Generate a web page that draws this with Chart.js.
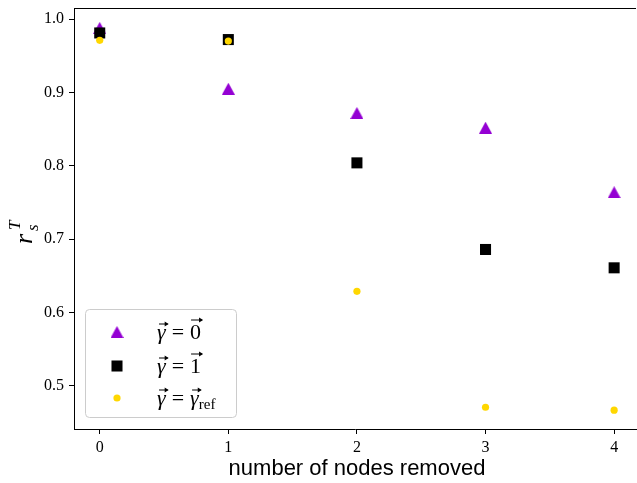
<!DOCTYPE html>
<html>
<head>
<meta charset="utf-8">
<script src="https://cdn.jsdelivr.net/npm/chart.js@4/dist/chart.umd.min.js"></script>
<style>
  html, body { margin: 0; padding: 0; background: #fff; }
  canvas { display: block; }
</style>
</head>
<body>
<canvas id="chart" width="637" height="483"></canvas>
<script>
const nodesRemoved = [0, 1, 2, 3, 4];
const gammaZero = [0.988, 0.905, 0.872, 0.852, 0.764];
const gammaOne = [0.981, 0.972, 0.804, 0.686, 0.661];
const gammaRef = [0.971, 0.970, 0.629, 0.471, 0.467];
const yTicks = [0.5, 0.6, 0.7, 0.8, 0.9, 1.0];
const xTicks = [0, 1, 2, 3, 4];

const serif = '"Liberation Serif", "DejaVu Serif", serif';
const purple = '#9400d3';
const gold = '#ffd700';

function points(values) {
  return nodesRemoved.map((x, i) => ({ x, y: values[i] }));
}

// triangle marker centred on its bounding box (like matplotlib '^')
function triangleMarker(color) {
  const c = document.createElement('canvas');
  c.width = 13;
  c.height = 12;
  const g = c.getContext('2d');
  g.fillStyle = color;
  g.beginPath();
  g.moveTo(6.5, 0);
  g.lineTo(13, 12);
  g.lineTo(0, 12);
  g.closePath();
  g.fill();
  return c;
}
const triangle = triangleMarker(purple);

// little vector arrow drawn over a glyph
function vecArrow(ctx, x0, x1, y) {
  ctx.save();
  ctx.lineWidth = 1;
  ctx.beginPath();
  ctx.moveTo(x0, y);
  ctx.lineTo(x1, y);
  ctx.stroke();
  ctx.beginPath();
  ctx.moveTo(x1 + 1, y);
  ctx.lineTo(x1 - 3, y - 2.5);
  ctx.lineTo(x1 - 3, y + 2.5);
  ctx.closePath();
  ctx.fill();
  ctx.restore();
}

// keep the plot box where the reference has it
function noOverhang(axis) {
  axis.paddingTop = 0;
  axis.paddingBottom = 0;
  axis.paddingLeft = 0;
  axis.paddingRight = 0;
}

const legendItems = [
  { style: triangle, color: purple, radius: 7.2, rhs: '0' },
  { style: 'rect', color: '#000', radius: 7.8, rhs: '1' },
  { style: 'circle', color: gold, radius: 3.6, rhs: 'ref' },
];

const framePlugin = {
  id: 'frame',
  afterDraw(chart) {
    const ctx = chart.ctx;
    const area = chart.chartArea;
    ctx.save();
    // top spine
    ctx.strokeStyle = '#000';
    ctx.lineWidth = 1;
    ctx.beginPath();
    ctx.moveTo(area.left, area.top + 0.5);
    ctx.lineTo(area.right, area.top + 0.5);
    ctx.stroke();

    // y axis title r_s^T
    ctx.fillStyle = '#000';
    ctx.translate(32, 244);
    ctx.rotate(-Math.PI / 2);
    ctx.textBaseline = 'alphabetic';
    ctx.font = 'italic 26px ' + serif;
    ctx.fillText('r', 0, 0);
    ctx.font = 'italic 17px ' + serif;
    ctx.fillText('T', 14, -12);
    ctx.fillText('s', 13, 6);
    ctx.restore();

    // x axis title
    ctx.save();
    ctx.fillStyle = '#000';
    ctx.font = '22px "Liberation Sans", "DejaVu Sans", sans-serif';
    ctx.textAlign = 'center';
    ctx.textBaseline = 'middle';
    ctx.fillText('number of nodes removed', 357, 469);
    ctx.restore();

    // legend box
    ctx.save();
    ctx.fillStyle = 'rgba(255,255,255,0.8)';
    ctx.strokeStyle = '#cccccc';
    ctx.lineWidth = 1;
    ctx.beginPath();
    ctx.roundRect(85.5, 309.5, 151, 108, 4);
    ctx.fill();
    ctx.stroke();

    const rows = [332, 366, 398];
    legendItems.forEach((item, i) => {
      const y = rows[i];
      ctx.fillStyle = item.color;
      Chart.helpers.drawPoint(ctx, { pointStyle: item.style, radius: item.radius, borderWidth: 0, rotation: 0 }, 117, y);

      ctx.fillStyle = '#000';
      ctx.strokeStyle = '#000';
      ctx.textBaseline = 'alphabetic';
      const base = y + 7;
      let x = 157;
      ctx.font = 'italic 22px ' + serif;
      ctx.fillText('γ', x, base);
      const gw = ctx.measureText('γ').width;
      vecArrow(ctx, x + 2, x + gw + 2, base - 15);
      x += gw + 6;
      ctx.font = '22px ' + serif;
      ctx.fillText('=', x, base);
      x += ctx.measureText('=').width + 6;
      if (item.rhs === 'ref') {
        ctx.font = 'italic 22px ' + serif;
        ctx.fillText('γ', x, base);
        vecArrow(ctx, x + 2, x + gw + 2, base - 15);
        x += gw;
        ctx.font = '15px ' + serif;
        ctx.fillText('ref', x, base + 4);
      } else {
        ctx.font = '22px ' + serif;
        ctx.fillText(item.rhs, x, base);
        const dw = ctx.measureText(item.rhs).width;
        vecArrow(ctx, x + 1, x + dw + 1, base - 19);
      }
    });
    ctx.restore();
  },
};

new Chart(document.getElementById('chart'), {
  type: 'scatter',
  data: {
    datasets: [
      {
        label: 'gamma = 0',
        data: points(gammaZero),
        pointStyle: triangle,
        pointRadius: 7.2,
        pointBorderWidth: 0,
        backgroundColor: purple,
        borderColor: purple,
        order: 3,
      },
      {
        label: 'gamma = 1',
        data: points(gammaOne),
        pointStyle: 'rect',
        pointRadius: 7.8,
        pointBorderWidth: 0,
        backgroundColor: '#000',
        borderColor: '#000',
        order: 2,
      },
      {
        label: 'gamma = gamma_ref',
        data: points(gammaRef),
        pointStyle: 'circle',
        pointRadius: 3.6,
        pointBorderWidth: 0,
        backgroundColor: gold,
        borderColor: gold,
        order: 1,
      },
    ],
  },
  options: {
    responsive: false,
    animation: false,
    devicePixelRatio: 1,
    layout: { autoPadding: false, padding: { top: 8, right: 1, left: 0, bottom: 0 } },
    plugins: {
      legend: { display: false },
      tooltip: { enabled: false },
    },
    scales: {
      x: {
        type: 'linear',
        min: -0.2,
        max: 4.17,
        afterFit(axis) { axis.height = 54; noOverhang(axis); },
        afterBuildTicks(axis) { axis.ticks = xTicks.map((v) => ({ value: v })); },
        grid: { drawOnChartArea: false, color: '#000', tickLength: 5, tickWidth: 1 },
        border: { display: true, color: '#000', width: 1 },
        ticks: {
          color: '#000',
          font: { family: serif, size: 16 },
          padding: 4,
          maxRotation: 0,
          callback: (v) => String(v),
        },
      },
      y: {
        type: 'linear',
        min: 0.4414,
        max: 1.015,
        afterFit(axis) { axis.width = 74; noOverhang(axis); },
        afterBuildTicks(axis) { axis.ticks = yTicks.map((v) => ({ value: v })); },
        grid: { drawOnChartArea: false, color: '#000', tickLength: 5, tickWidth: 1 },
        border: { display: true, color: '#000', width: 1 },
        ticks: {
          color: '#000',
          font: { family: serif, size: 16 },
          padding: 5,
          callback: (v) => v.toFixed(1),
        },
      },
    },
  },
  plugins: [framePlugin],
});
</script>
</body>
</html>
